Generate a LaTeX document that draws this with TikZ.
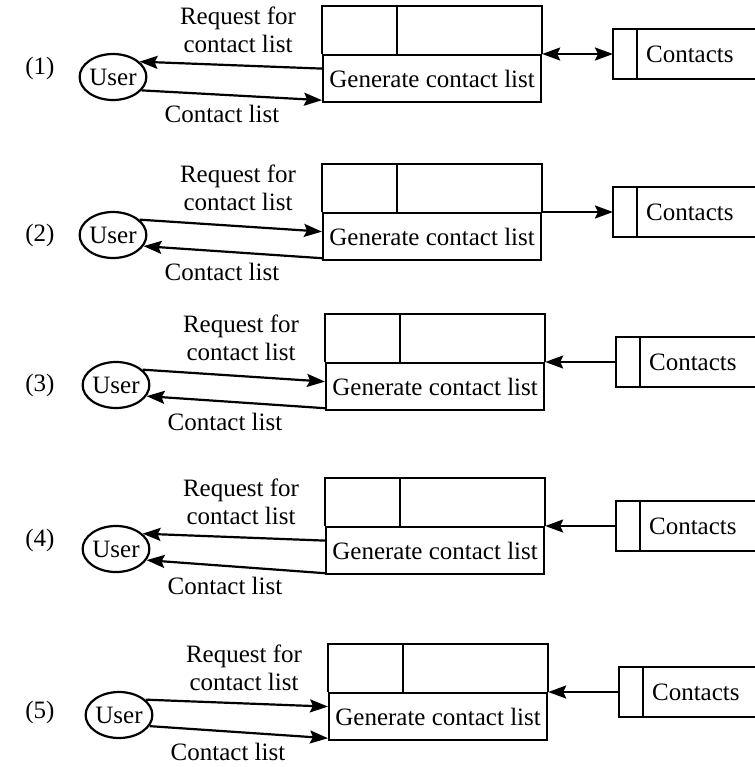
\documentclass[tikz,border=0pt]{standalone}
\usepackage{fontspec}
\setmainfont{Liberation Serif}
\usetikzlibrary{arrows.meta,shapes.geometric}

\begin{document}
\begin{tikzpicture}[x=0.5pt, y=-0.5pt, >={Stealth[length=9pt, width=6.5pt, inset=1.5pt]},
    line width=1.1pt, font=\fontsize{12.5}{14}\selectfont,
    user/.style={draw, ellipse, minimum width=32pt, minimum height=23pt, inner sep=0pt},
    proc/.style={draw, minimum width=109pt, minimum height=23.5pt, inner sep=0pt},
    store/.style={minimum height=24pt, text width=39pt, inner xsep=16pt, align=left},
    flow/.style={->}]
    \useasboundingbox (0,0) rectangle (755,767);

    % five variants of the same flow
    \foreach \i/\ym/\xs/\ly in {1/54/0/14, 2/212/0/23, 3/362/3/23, 4/526/3/14, 5/692/6/20} {
        \node (n\i) at (40, \ym+\ly) {(\i)};
        \node[user] (u\i) at (113+\xs, \ym+23) {User};
        \node[proc, anchor=north west] (g\i) at (322+\xs, \ym) {Generate contact list};
        \draw (g\i.north west) -- ++(0,-48) -| (g\i.north east);
        \draw ([xshift=37.5pt]g\i.north west) -- ++(0,-48);
        \node[store, anchor=west] (s\i) at (613+\xs, \ym) {Contacts};
        \draw (s\i.north east) -- (s\i.north west) -- (s\i.south west) -- (s\i.south east);
        \draw ([xshift=12pt]s\i.north west) -- ([xshift=12pt]s\i.south west);
        \node[align=center] (r\i) at (238+\xs, \ym-24) {Request for\\contact list};
        \node (c\i) at (222+\xs, \ym+60) {Contact list};
    }

    \draw[flow] ([yshift=5pt]g1.west) -- (u1.30);
    \draw[flow] (u1.-25) -- ([yshift=1.5pt]g1.south west);
    \draw[<->] (g1.north east) -- (s1.west);

    \draw[flow] (u2.30) -- ([yshift=2.5pt]g2.west);
    \draw[flow] ([yshift=1.5pt]g2.south west) -- (u2.-20);
    \draw[flow] (g2.north east) -- (s2.west);

    \draw[flow] (u3.30) -- ([yshift=2.5pt]g3.west);
    \draw[flow] ([yshift=1.5pt]g3.south west) -- (u3.-20);
    \draw[flow] (s3.west) -- (g3.north east);

    \draw[flow] ([yshift=5pt]g4.west) -- (u4.30);
    \draw[flow] ([yshift=1pt]g4.south west) -- (u4.-20);
    \draw[flow] (s4.west) -- (g4.north east);

    \draw[flow] (u5.30) -- ([yshift=5pt]g5.west);
    \draw[flow] (u5.-20) -- ([yshift=1.5pt]g5.south west);
    \draw[flow] (s5.west) -- (g5.north east);
\end{tikzpicture}
\end{document}
